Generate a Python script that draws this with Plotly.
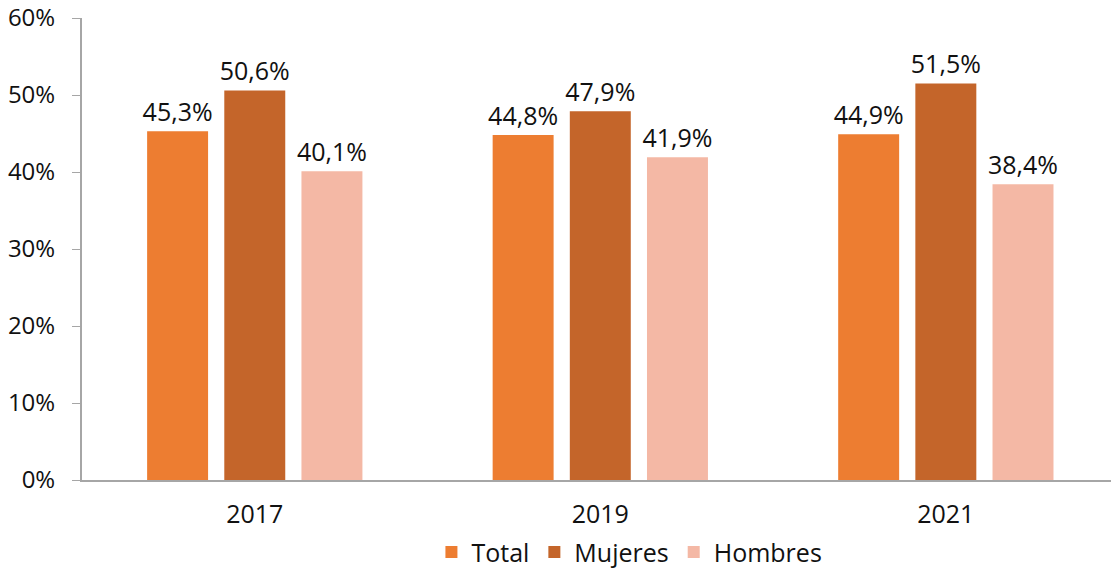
import plotly.graph_objects as go

years = ["2017", "2019", "2021"]
total = [45.3, 44.8, 44.9]
mujeres = [50.6, 47.9, 51.5]
hombres = [40.1, 41.9, 38.4]
series_names = ["Total", "Mujeres", "Hombres"]
colors = ["#ED7D31", "#C4652A", "#F4B8A5"]
y_ticks = [0, 10, 20, 30, 40, 50, 60]

def fmt(v):
    return f"{v:.1f}".replace(".", ",") + "%"

fig = go.Figure()
for name, vals, col in zip(series_names, [total, mujeres, hombres], colors):
    fig.add_trace(go.Bar(
        x=years, y=vals, name=name, marker=dict(color=col, line=dict(width=0)),
        text=[fmt(v) for v in vals], textposition="outside", cliponaxis=False,
        constraintext="none",
        textfont=dict(size=25, color="#111111"),
    ))

fig.update_layout(
    width=1111, height=573,
    margin=dict(l=82, r=0, t=18, b=93),
    paper_bgcolor="white", plot_bgcolor="white",
    font=dict(family="Open Sans", size=24, color="#111111"),
    barmode="group", bargap=0.33, bargroupgap=0.21,
    showlegend=True,
    legend=dict(orientation="h", x=0.532, xanchor="center", yref="container", y=0.036,
                yanchor="middle", font=dict(size=25), itemwidth=30, traceorder="normal"),
    xaxis=dict(type="category", range=[-0.5, 2.478], showline=True, linecolor="#A6A6A6",
               linewidth=2, ticks="", showgrid=False, tickfont=dict(size=25),
               ticklabelstandoff=11, automargin=False),
    yaxis=dict(range=[0, 60], tickvals=y_ticks, ticktext=[f"{t}%" for t in y_ticks],
               showline=True, linecolor="#A6A6A6", linewidth=2, ticks="outside",
               ticklen=8, tickcolor="#A6A6A6", tickwidth=1, showgrid=False,
               zeroline=False, tickfont=dict(size=24), ticklabelstandoff=12,
               automargin=False),
)

fig.write_html("out.html", config={"displayModeBar": False},
               post_script="document.body.style.margin='0';document.body.style.overflow='hidden';")
